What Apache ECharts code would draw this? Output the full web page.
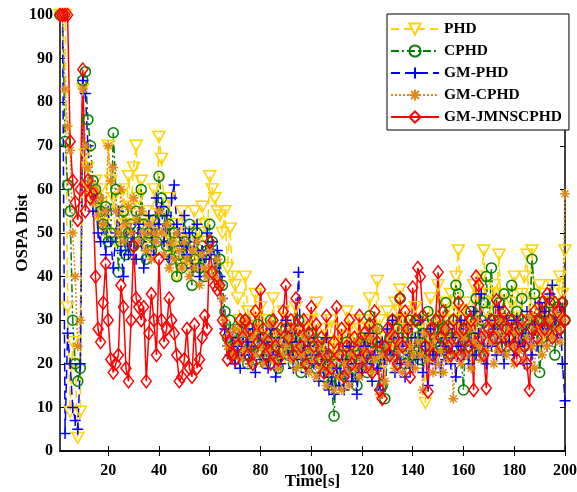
<!DOCTYPE html>
<html><head><meta charset="utf-8">
<script src="https://cdn.jsdelivr.net/npm/echarts@6/dist/echarts.min.js"></script>
<style>html,body{margin:0;padding:0;background:#fff}#c{width:577px;height:492px}</style>
</head><body><div id="c"></div>
<script>
const seriesNames = ['PHD','CPHD','GM-PHD','GM-CPHD','GM-JMNSCPHD'];
const xTicks = [20,40,60,80,100,120,140,160,180,200];
const yTicks = [0,10,20,30,40,50,60,70,80,90,100];

const phd = [
100,100,100,33,9,25,20,3,9,83,
68,65,60,58,62,55,60,52,50,70,
62,58,48,55,50,60,52,63,56,65,
70,58,62,48,55,52,45,60,50,72,
67,55,50,58,46,52,40,48,55,44,
50,42,48,55,45,50,56,52,48,63,
60,58,55,54,50,55,42,51,40,38,
35,30,28,40,32,26,30,36,24,33,
28,22,30,26,35,24,28,20,32,25,
30,22,27,33,24,20,28,25,30,22,
26,34,20,24,28,18,22,30,25,20,
24,28,22,32,26,30,24,20,28,22,
30,26,35,28,22,39,30,20,26,32,
24,28,34,30,37,26,32,28,22,30,
33,26,30,24,11,28,35,30,26,38,
30,25,34,28,36,30,40,46,32,28,
34,26,30,38,28,35,40,46,32,36,
30,38,34,45,28,36,30,26,34,40,
32,28,36,40,45,30,46,34,28,38,
30,36,26,34,38,30,32,40,36,46];

const cphd = [
100,100,71,61,55,30,20,16,19,85,
87,76,70,62,60,58,55,52,56,48,
50,73,60,41,48,55,45,50,52,47,
55,48,60,52,44,50,46,53,48,63,
58,55,47,52,44,50,40,45,42,48,
45,52,38,44,50,42,47,40,46,52,
48,45,40,44,38,32,26,30,22,25,
28,22,25,30,20,24,27,21,29,23,
26,20,24,30,22,27,19,25,23,28,
22,26,20,24,30,18,25,22,20,27,
23,19,25,21,17,22,18,15,8,20,
16,22,19,25,17,21,24,15,20,26,
22,18,31,25,20,28,24,15,12,22,
26,30,22,28,35,24,20,27,30,22,
25,30,21,27,24,32,22,28,25,30,
24,28,34,22,26,30,38,36,24,14,
28,24,32,26,35,22,30,34,40,28,
42,30,26,34,28,36,24,30,38,28,
32,26,35,24,30,28,44,36,30,18,
26,32,28,34,30,22,33,28,34,30];

const gmphd = [
100,100,4,27,20,10,7,5,20,85,
82,70,62,55,58,50,48,52,45,55,
48,42,50,55,46,40,52,45,48,50,
44,52,48,42,46,54,50,45,58,52,
56,48,54,44,58,61,52,50,47,54,
45,50,42,48,52,40,46,44,50,45,
48,42,46,40,35,28,24,22,26,20,
24,19,27,22,25,20,28,18,24,26,
21,25,19,28,22,17,26,20,24,30,
22,27,19,25,41,21,24,18,26,22,
20,24,16,22,18,26,14,17,13,19,
15,21,14,18,24,16,20,13,22,18,
24,20,27,16,22,19,14,25,21,28,
22,30,18,26,20,24,17,28,22,19,
26,21,30,18,24,15,28,22,20,26,
18,24,21,28,20,26,17,24,30,22,
28,20,25,32,22,27,36,24,20,30,
24,28,22,33,26,20,30,25,28,22,
30,24,27,20,32,26,22,29,24,34,
28,32,24,36,38,30,26,33,20,11.5];

const gmcphd = [
100,100,83,74.5,69,50,40,24,30,83,
70,65,62,57,60,54,58,52,55,70,
62,65,55,50,60,48,52,56,50,58,
53,48,55,50,46,52,44,50,48,55,
50,45,52,42,48,44,50,46,42,48,
44,40,46,42,48,38,45,42,40,46,
42,40,44,38,35,30,24,27,22,28,
25,21,27,23,30,20,26,22,28,24,
20,26,23,29,21,25,19,27,22,24,
26,21,28,19,24,22,20,26,18,23,
21,17,24,19,22,15,18,20,14,22,
17,14,20,18,15,22,19,25,17,21,
23,19,26,18,21,28,13,22,16,24,
21,27,19,25,23,18,28,20,24,22,
19,25,22,14,27,21,24,18,26,20,
23,18,28,21,25,12,22,27,20,26,
22,28,19,25,30,24,21,27,23,29,
25,20,27,23,30,26,22,28,24,20,
27,23,29,21,26,31,24,19,28,25,
22,27,24,30,26,32,28,25,30,59];

const gmjmns = [
100,100,100,100,71,62,57,53,60,87.5,
55,62,58,59,40,28,25,34,43,30,
21,18,20,22,38,33,19,16,30,47,
35,33,30,33,16,27,36,30,22,44,
30,25,28,35,30,27,22,16,17,21,
28,19,17,29,19,21,26,31,28,48,
41,38,37,38,30,27,21,25,22,21,
24,30,26,30,22,28,20,32,25,37,
28,22,25,20,30,24,21,28,32,38,
26,30,22,35,28,24,30,20,27,33,
24,29,21,26,18,31,22,19,25,33,
22,28,17,24,30,20,26,23,31,19,
27,22,29,18,32,25,14,12,24,28,
22,30,26,20,35,24,32,28,17,37.5,
30,42,40,31,24,13.6,27.8,22,30,41,
26,32,28,24,22,30,26,34,22,28,
32,24,30,14,40,38,26,22,14.4,28,
30,26,34.6,30,24,32,28,26,30,24,
21,28,30,24,20,14,28,32,26,30,
34,28,36,30,26,34,32,28,34,30];

const FONT = 'Liberation Serif';
const plusPath = 'path://M5,0L5,10M0,5L10,5';
const starPath = 'path://M5,0L5,10M0,5L10,5M1.5,1.5L8.5,8.5M8.5,1.5L1.5,8.5';
const styles = [
  {data: phd, color:'#FFD200', type:[8,5], symbol:'triangle', rotate:180, size:[12,11]},
  {data: cphd, color:'#008000', type:[8,3,2,3], symbol:'circle', rotate:0, size:10},
  {data: gmphd, color:'#0000FF', type:[9,5], symbol:plusPath, rotate:0, size:11},
  {data: gmcphd, color:'#E08A1A', type:[2,2], symbol:starPath, rotate:0, size:10},
  {data: gmjmns, color:'#FF0000', type:'solid', symbol:'diamond', rotate:0, size:[10,13]}
];
const series = styles.map((s,k)=>({
  name: seriesNames[k], type:'line',
  data: s.data.map((v,i)=>[i+1,v]),
  showAllSymbol:true, symbol:s.symbol, symbolSize:s.size, symbolRotate:s.rotate,
  lineStyle:{color:s.color, width:1.5, type:s.type},
  itemStyle:{color:'rgba(255,255,255,0)', borderColor:s.color, borderWidth:1.5},
  emphasis:{disabled:true}, animation:false
}));
const axisCommon = {
  axisLine:{show:true, lineStyle:{color:'#000', width:1.5}},
  axisTick:{show:true, inside:true, length:5, lineStyle:{color:'#000', width:1}},
  splitLine:{show:false}
};
const labelFont = {fontFamily:FONT, fontWeight:'bold', fontSize:16, color:'#000'};
const chart = echarts.init(document.getElementById('c'), null, {renderer:'canvas'});
chart.setOption({
  animation:false,
  backgroundColor:'#fff',
  grid:{left:60, right:12, top:15, bottom:41, containLabel:false, outerBoundsMode:'none'},
  legend:{
    orient:'vertical', left:387, top:14,
    backgroundColor:'#fff', borderColor:'#000', borderWidth:1,
    padding:[7,7,5,3], itemGap:6, itemWidth:48, itemHeight:14,
    textStyle:{fontFamily:FONT, fontWeight:'bold', fontSize:15.5, color:'#000'},
    data: seriesNames
  },
  xAxis:[
    Object.assign({type:'value', min:1, max:200, position:'bottom',
      name:'Time[s]', nameLocation:'middle', nameGap:22, nameMoveOverlap:false,
      nameTextStyle:{fontFamily:FONT, fontWeight:'bold', fontSize:17, color:'#000'},
      axisLabel:Object.assign({customValues:xTicks, margin:12}, labelFont)}, axisCommon,
      {axisTick:{show:true, inside:true, length:5, customValues:xTicks, lineStyle:{color:'#000'}}}),
    Object.assign({type:'value', min:1, max:200, position:'top',
      axisLabel:{show:false}}, axisCommon,
      {axisTick:{show:true, inside:true, length:5, customValues:xTicks, lineStyle:{color:'#000'}}})
  ],
  yAxis:[
    Object.assign({type:'value', min:0, max:100, interval:10, position:'left',
      name:'OSPA Dist', nameLocation:'middle', nameGap:29, nameMoveOverlap:false,
      nameTextStyle:{fontFamily:FONT, fontWeight:'bold', fontSize:17, color:'#000'},
      axisLabel:Object.assign({margin:7}, labelFont)}, axisCommon),
    Object.assign({type:'value', min:0, max:100, interval:10, position:'right',
      axisLabel:{show:false}}, axisCommon)
  ],
  series: series
});
</script></body></html>
